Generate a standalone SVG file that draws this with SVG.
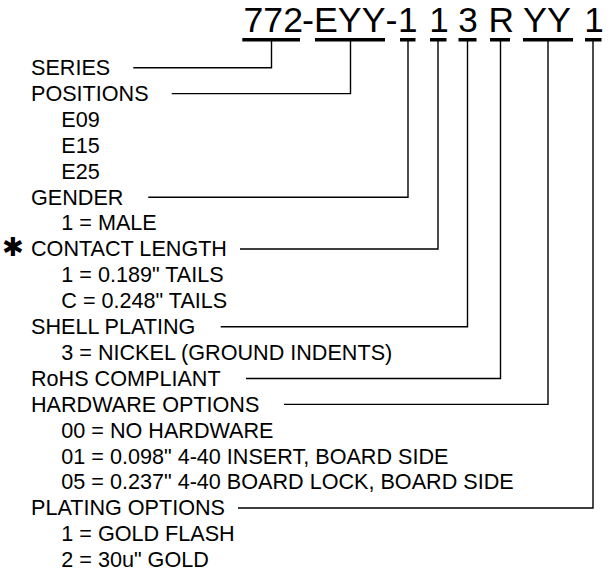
<svg xmlns="http://www.w3.org/2000/svg" width="613" height="571" viewBox="0 0 613 571">
<style>
  .pn { font-family: "Liberation Sans", Arial, sans-serif; font-size: 35px; fill: #000; }
  .lb { font-family: "Liberation Sans", Arial, sans-serif; font-size: 21.6px; fill: #000; }
  .bar { fill: #000; }
  .con { fill: none; stroke: #000; stroke-width: 1.4; }
  .star { font-family: "DejaVu Sans", sans-serif; font-size: 26px; font-weight: bold; fill: #000; }
</style>
<rect width="613" height="571" fill="#fff"/>
<g id="part-number">
  <text class="pn" x="243.5" y="31.7" textLength="59.5" lengthAdjust="spacingAndGlyphs">772</text>
  <text class="pn" x="302" y="31.7" textLength="12" lengthAdjust="spacingAndGlyphs">-</text>
  <text class="pn" x="314" y="31.7" textLength="71.5" lengthAdjust="spacingAndGlyphs">EYY</text>
  <text class="pn" x="385.5" y="31.7" textLength="12" lengthAdjust="spacingAndGlyphs">-</text>
  <text class="pn" x="398" y="31.7" textLength="19.5" lengthAdjust="spacingAndGlyphs">1</text>
  <text class="pn" x="429.2" y="31.7" textLength="19.5" lengthAdjust="spacingAndGlyphs">1</text>
  <text class="pn" x="458.3" y="31.7" textLength="19.5" lengthAdjust="spacingAndGlyphs">3</text>
  <text class="pn" x="488.5" y="31.7" textLength="25.5" lengthAdjust="spacingAndGlyphs">R</text>
  <text class="pn" x="523" y="31.7" textLength="48" lengthAdjust="spacingAndGlyphs">YY</text>
  <text class="pn" x="584.2" y="31.7" textLength="19.5" lengthAdjust="spacingAndGlyphs">1</text>
  <rect class="bar" x="242.3" y="38" width="57.7" height="3.5"/>
  <rect class="bar" x="315" y="38" width="70" height="3.5"/>
  <rect class="bar" x="400" y="38" width="15.5" height="3.5"/>
  <rect class="bar" x="430" y="38" width="16.5" height="3.5"/>
  <rect class="bar" x="458.5" y="38" width="18" height="3.5"/>
  <rect class="bar" x="490" y="38" width="20" height="3.5"/>
  <rect class="bar" x="523" y="38" width="50" height="3.5"/>
  <rect class="bar" x="585" y="38" width="16.5" height="3.5"/>
</g>
<g id="series"><text class="lb" x="31" y="75">SERIES</text></g>
<g id="positions">
  <text class="lb" x="31" y="100.9">POSITIONS</text>
  <text class="lb" x="61.3" y="126.8">E09</text>
  <text class="lb" x="61.3" y="152.7">E15</text>
  <text class="lb" x="61.3" y="178.6">E25</text>
</g>
<g id="gender">
  <text class="lb" x="31" y="204.5">GENDER</text>
  <text class="lb" x="61.3" y="230.4">1 = MALE</text>
</g>
<g id="contact-length">
  <text class="star" x="2.1" y="255.8">✱</text>
  <text class="lb" x="31" y="256.3">CONTACT LENGTH</text>
  <text class="lb" x="61.3" y="282.2">1 = 0.189" TAILS</text>
  <text class="lb" x="61.3" y="308.1">C = 0.248" TAILS</text>
</g>
<g id="shell-plating">
  <text class="lb" x="31" y="334">SHELL PLATING</text>
  <text class="lb" x="61.3" y="359.9">3 = NICKEL (GROUND INDENTS)</text>
</g>
<g id="rohs"><text class="lb" x="31" y="385.8">RoHS COMPLIANT</text></g>
<g id="hardware-options">
  <text class="lb" x="31" y="411.7">HARDWARE OPTIONS</text>
  <text class="lb" x="61.3" y="437.6">00 = NO HARDWARE</text>
  <text class="lb" x="61.3" y="463.5">01 = 0.098" 4-40 INSERT, BOARD SIDE</text>
  <text class="lb" x="61.3" y="489.4">05 = 0.237" 4-40 BOARD LOCK, BOARD SIDE</text>
</g>
<g id="plating-options">
  <text class="lb" x="31" y="515.3">PLATING OPTIONS</text>
  <text class="lb" x="61.3" y="541.2">1 = GOLD FLASH</text>
  <text class="lb" x="61.3" y="567.1">2 = 30u" GOLD</text>
</g>
<g id="connectors">
  <path class="con" d="M133.3 67.8 H271.5 V39.5"/>
  <path class="con" d="M171.7 93.6 H350.5 V39.5"/>
  <path class="con" d="M148.3 197.2 H408 V39.5"/>
  <path class="con" d="M240 249 H438 V39.5"/>
  <path class="con" d="M220.7 326.7 H467.5 V39.5"/>
  <path class="con" d="M246 378.5 H500.5 V39.5"/>
  <path class="con" d="M284 404.4 H548 V39.5"/>
  <path class="con" d="M238 508 H593 V39.5"/>
</g>
</svg>
